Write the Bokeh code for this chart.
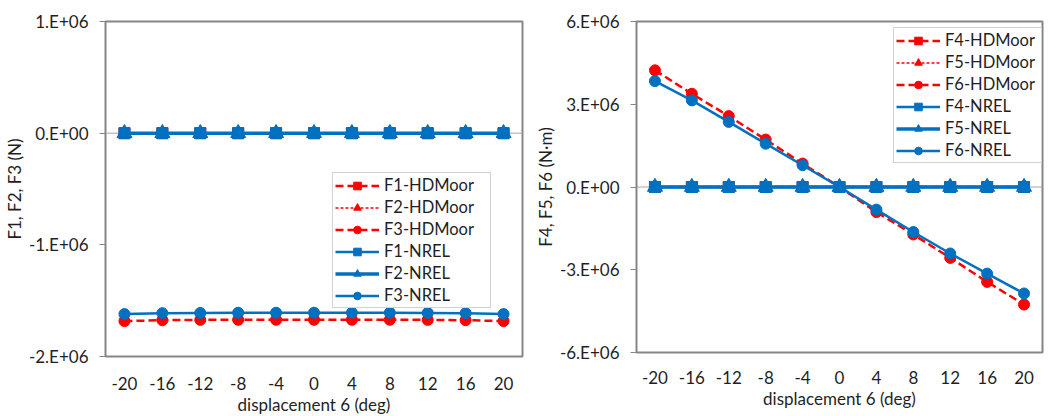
from bokeh.plotting import figure
from bokeh.models import FixedTicker, Legend, LegendItem, Span
from bokeh.layouts import row
from bokeh.embed import file_html
from bokeh.resources import INLINE

# ---- data ----
displacement = [-20, -16, -12, -8, -4, 0, 4, 8, 12, 16, 20]

F1_HDMoor = [0, 0, 0, 0, 0, 0, 0, 0, 0, 0, 0]
F2_HDMoor = [0, 0, 0, 0, 0, 0, 0, 0, 0, 0, 0]
F3_HDMoor = [-1.683e6, -1.675e6, -1.672e6, -1.671e6, -1.671e6, -1.671e6,
             -1.671e6, -1.671e6, -1.672e6, -1.675e6, -1.683e6]
F1_NREL = [0, 0, 0, 0, 0, 0, 0, 0, 0, 0, 0]
F2_NREL = [0, 0, 0, 0, 0, 0, 0, 0, 0, 0, 0]
F3_NREL = [-1.620e6, -1.612e6, -1.610e6, -1.608e6, -1.608e6, -1.608e6,
           -1.608e6, -1.608e6, -1.610e6, -1.612e6, -1.620e6]

F4_HDMoor = [0, 0, 0, 0, 0, 0, 0, 0, 0, 0, 0]
F5_HDMoor = [0, 0, 0, 0, 0, 0, 0, 0, 0, 0, 0]
F6_HDMoor = [4.23e6, 3.38e6, 2.57e6, 1.72e6, 0.85e6, 0.0,
             -0.91e6, -1.72e6, -2.57e6, -3.44e6, -4.26e6]
F4_NREL = [0, 0, 0, 0, 0, 0, 0, 0, 0, 0, 0]
F5_NREL = [0, 0, 0, 0, 0, 0, 0, 0, 0, 0, 0]
F6_NREL = [3.84e6, 3.14e6, 2.36e6, 1.57e6, 0.79e6, 0.0,
           -0.82e6, -1.63e6, -2.41e6, -3.14e6, -3.86e6]

left_yticks = [-2e6, -1e6, 0, 1e6]
left_ylabels = ["-2.E+06", "-1.E+06", "0.E+00", "1.E+06"]
right_yticks = [-6e6, -3e6, 0, 3e6, 6e6]
right_ylabels = ["-6.E+06", "-3.E+06", "0.E+00", "3.E+06", "6.E+06"]
xtick_labels = ["-20", "-16", "-12", "-8", "-4", "0", "4", "8", "12", "16", "20"]

RED = "#FF0000"
BLUE = "#0070C0"
FONT = "Lato"
TXT = "#1F1F1F"


def make_panel(fw, fh, mleft, mright, mtop, mbottom, yr, yticks, ylabels,
               ylabel, series, legend_loc, label_w, xstandoff):
    p = figure(frame_width=fw, frame_height=fh, x_range=(-22, 22), y_range=yr,
               output_backend="svg", toolbar_location=None,
               min_border_left=mleft, min_border_right=mright,
               min_border_top=mtop, min_border_bottom=mbottom)
    p.background_fill_color = "white"
    p.border_fill_color = "white"
    p.outline_line_color = "#868686"
    p.outline_line_width = 2
    p.grid.visible = False

    p.add_layout(Span(location=0, dimension="width", line_color="#A6A6A6",
                      line_width=1, level="underlay"))

    xa = p.xaxis[0]
    xa.ticker = FixedTicker(ticks=displacement)
    xa.major_label_overrides = {v: s for v, s in zip(displacement, xtick_labels)}
    xa.axis_line_color = None
    xa.major_tick_line_color = None
    xa.minor_tick_line_color = None
    xa.major_label_standoff = xstandoff
    xa.axis_label = "displacement 6 (deg)"
    xa.axis_label_standoff = 1

    ya = p.yaxis[0]
    ya.ticker = FixedTicker(ticks=yticks)
    ya.major_label_overrides = {v: s for v, s in zip(yticks, ylabels)}
    ya.axis_line_color = "#868686"
    ya.major_tick_line_color = "#868686"
    ya.major_tick_out = 6
    ya.major_tick_in = 0
    ya.minor_tick_line_color = None
    ya.major_label_standoff = 11
    ya.axis_label = ylabel
    ya.axis_label_standoff = 1

    for ax in (xa, ya):
        ax.major_label_text_font = FONT
        ax.major_label_text_font_size = "17px"
        ax.major_label_text_color = TXT
        ax.axis_label_text_font = FONT
        ax.axis_label_text_font_size = "17px"
        ax.axis_label_text_font_style = "normal"
        ax.axis_label_text_color = TXT

    items = []
    for name, ys, color, dash, lw, marker, msize in series:
        lr = p.line(displacement, ys, line_color=color, line_width=lw,
                    line_dash=dash)
        sr = p.scatter(displacement, ys, marker=marker, size=msize,
                       fill_color=color, line_color=color)
        items.append(LegendItem(label=name, renderers=[lr, sr]))

    leg = Legend(items=items, location=legend_loc)
    leg.label_text_font = FONT
    leg.label_text_font_size = "16.5px"
    leg.label_text_color = TXT
    leg.glyph_width = 44
    leg.glyph_height = 19
    leg.label_height = 19
    leg.label_width = label_w
    leg.label_standoff = 5
    leg.spacing = 2
    leg.padding = 2
    leg.margin = 0
    leg.border_line_color = "#A6A6A6"
    leg.border_line_width = 1
    leg.background_fill_color = "white"
    leg.background_fill_alpha = 1.0
    p.add_layout(leg)
    return p


left_series = [
    ("F1-HDMoor", F1_HDMoor, RED, "8 4", 2.5, "square", 11),
    ("F2-HDMoor", F2_HDMoor, RED, "3 2", 1.5, "triangle", 13),
    ("F3-HDMoor", F3_HDMoor, RED, "8 4", 2.5, "circle", 11),
    ("F1-NREL", F1_NREL, BLUE, "solid", 2.5, "square", 11),
    ("F2-NREL", F2_NREL, BLUE, "solid", 3.5, "triangle", 15),
    ("F3-NREL", F3_NREL, BLUE, "solid", 2.5, "circle", 11),
]
right_series = [
    ("F4-HDMoor", F4_HDMoor, RED, "8 4", 2.5, "square", 11),
    ("F5-HDMoor", F5_HDMoor, RED, "3 2", 1.5, "triangle", 13),
    ("F6-HDMoor", F6_HDMoor, RED, "8 4", 2.5, "circle", 11),
    ("F4-NREL", F4_NREL, BLUE, "solid", 2.5, "square", 11),
    ("F5-NREL", F5_NREL, BLUE, "solid", 3.5, "triangle", 15),
    ("F6-NREL", F6_NREL, BLUE, "solid", 2.5, "circle", 11),
]

p1 = make_panel(417, 335, 104, 9, 21, 60, (-2e6, 1e6), left_yticks,
                left_ylabels, "F1, F2, F3 (N)", left_series, (227, 48), 104, 14)
p2 = make_panel(406, 331, 104, 17, 21, 64, (-6e6, 6e6), right_yticks,
                right_ylabels, "F4, F5, F6 (N\u00b7m)", right_series, (257, 189), 94, 12)

layout = row(p1, p2)
open("out.html", "w").write(file_html(layout, INLINE))
